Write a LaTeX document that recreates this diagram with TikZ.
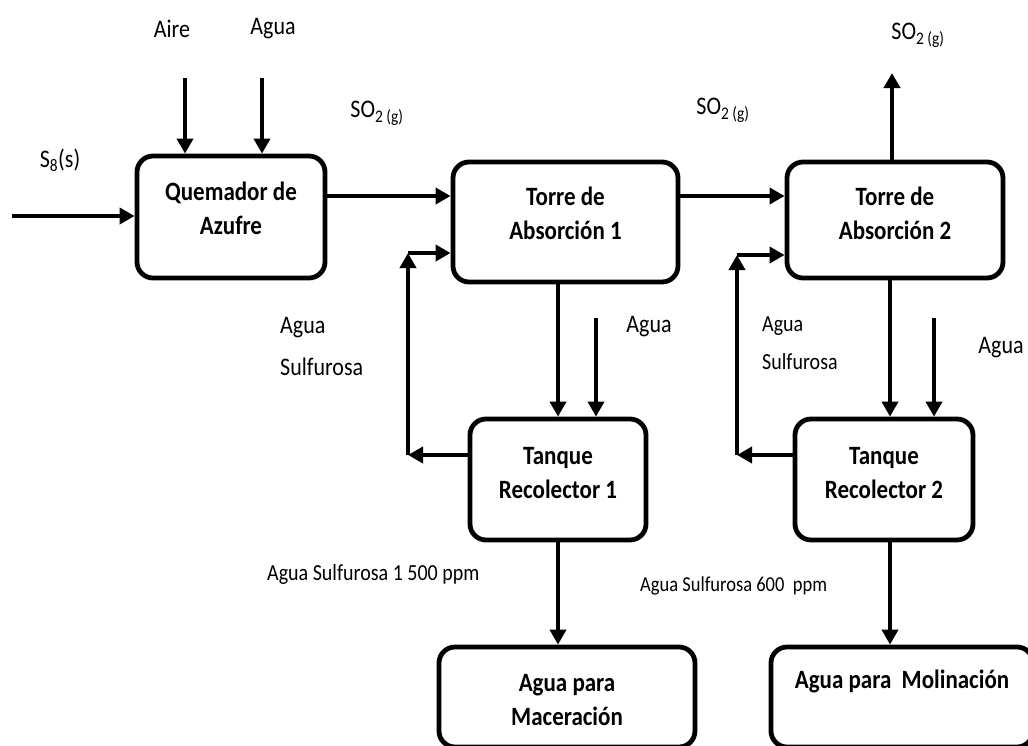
\documentclass[tikz,border=0pt]{standalone}
\usepackage{fontspec}
\setmainfont{Carlito}
\usetikzlibrary{arrows.meta}
\newcommand{\vst}[1]{\scalebox{1}[1.15]{#1}}
\newcommand{\boxtxt}[2]{\raisebox{#1}[\height][\depth]{\vst{\begin{tabular}{@{}c@{}}#2\end{tabular}}}}
\begin{document}
\begin{tikzpicture}[x=1pt,y=-1pt,
  box/.style={draw,line width=4.8pt,rounded corners=16pt,inner sep=0pt,
    font=\fontsize{23}{29.5}\selectfont\bfseries},
  arr/.style={line width=4pt,-{Triangle[length=15pt,width=16pt]}},
  lbl/.style={inner sep=0pt,font=\fontsize{22}{27}\selectfont},
  slbl/.style={inner sep=0pt,font=\fontsize{20}{24}\selectfont}]
\useasboundingbox (0,0) rectangle (1028,745);
\fill[white] (0,0) rectangle (1028,745);

% boxes
\node[box,minimum width=188pt,minimum height=122pt] (q) at (231,217) {\boxtxt{6.5pt}{Quemador de\\Azufre}};
\node[box,minimum width=225pt,minimum height=120pt] (t1) at (565.5,222) {\boxtxt{6pt}{Torre de\\Absorción 1}};
\node[box,minimum width=216pt,minimum height=116pt] (t2) at (895,220) {\boxtxt{4.5pt}{Torre de\\Absorción 2}};
\node[box,minimum width=176pt,minimum height=121pt] (k1) at (558,479.5) {\boxtxt{4.5pt}{Tanque\\Recolector 1}};
\node[box,minimum width=178pt,minimum height=121pt] (k2) at (884,479.5) {\boxtxt{4.5pt}{Tanque\\Recolector 2}};
\begin{scope}
\clip (0,0) rectangle (1028,745);
\node[box,minimum width=256pt,minimum height=100pt] (m) at (567,697) {\boxtxt{-4.5pt}{Agua para\\Maceración}};
\node[box,minimum width=262pt,minimum height=100pt] (ml) at (902,697) {\boxtxt{15pt}{Agua para~ Molinación}};
\end{scope}

% helper coordinates
\coordinate (s8in) at (12,216);
\coordinate (aire) at (185,78);
\coordinate (agua0) at (262,78);
\coordinate (y1) at (0,196);
\coordinate (so2top) at (892,73);
\coordinate (agua1) at (596,318);
\coordinate (agua2) at (934,318);
\coordinate (xk2) at (890,0);
\coordinate (c1) at (408,455);
\coordinate (c2) at (408,253);
\coordinate (c3) at (737,455);
\coordinate (c4) at (737,255);

% connectors
\draw[arr] (s8in) -- (s8in -| q.west);
\draw[arr] (aire) -- (aire |- q.north);
\draw[arr] (agua0) -- (agua0 |- q.north);
\draw[arr] (q.east |- y1) -- (t1.west |- y1);
\draw[arr] (t1.east |- y1) -- (t2.west |- y1);
\draw[arr] (so2top |- t2.north) -- (so2top);
\draw[arr] (k1.north |- t1.south) -- (k1.north);
\draw[arr] (agua1) -- (agua1 |- k1.north);
\draw[arr] (k1.west |- c1) -- (c1);
\draw[arr] (c1) -- (c2);
\draw[arr] (c2) -- (c2 -| t1.west);
\draw[arr] (xk2 |- t2.south) -- (xk2 |- k2.north);
\draw[arr] (agua2) -- (agua2 |- k2.north);
\draw[arr] (k2.west |- c3) -- (c3);
\draw[arr] (c3) -- (c4);
\draw[arr] (c4) -- (c4 -| t2.west);
\draw[arr] (k1.south) -- (k1.south |- m.north);
\draw[arr] (xk2 |- k2.south) -- (xk2 |- ml.north);

% labels
\node[lbl] (ls8) at (60,160) {\vst{S\textsubscript{8}(s)}};
\node[lbl] (laire) at (172,29) {\vst{Aire}};
\node[lbl] (lagua0) at (273,29) {\vst{Agua}};
\node[lbl] (lso1) at (377,113) {\vst{SO\textsubscript{2 (g)}}};
\node[lbl] (lso2) at (723,110) {\vst{SO\textsubscript{2 (g)}}};
\node[lbl] (lso3) at (918,35) {\vst{SO\textsubscript{2 (g)}}};
\node[lbl] (lagua1) at (649,327) {\vst{Agua}};
\node[lbl,anchor=west] (las1a) at (280,328) {\vst{Agua}};
\node[lbl,anchor=west] (las1b) at (280,367) {\vst{Sulfurosa}};
\node[slbl,anchor=west] (las2a) at (762,326) {\vst{Agua}};
\node[slbl,anchor=west] (las2b) at (762,362) {\vst{Sulfurosa}};
\node[lbl] (lagua2) at (1001,348) {\vst{Agua}};
\node[slbl,anchor=west] (lppm1) at (267,574) {\vst{Agua Sulfurosa 1 500 ppm}};
\node[inner sep=0pt,font=\fontsize{18.5}{22}\selectfont,anchor=west] (lppm2) at (640,586) {\vst{Agua Sulfurosa 600~ ppm}};
\end{tikzpicture}
\end{document}
